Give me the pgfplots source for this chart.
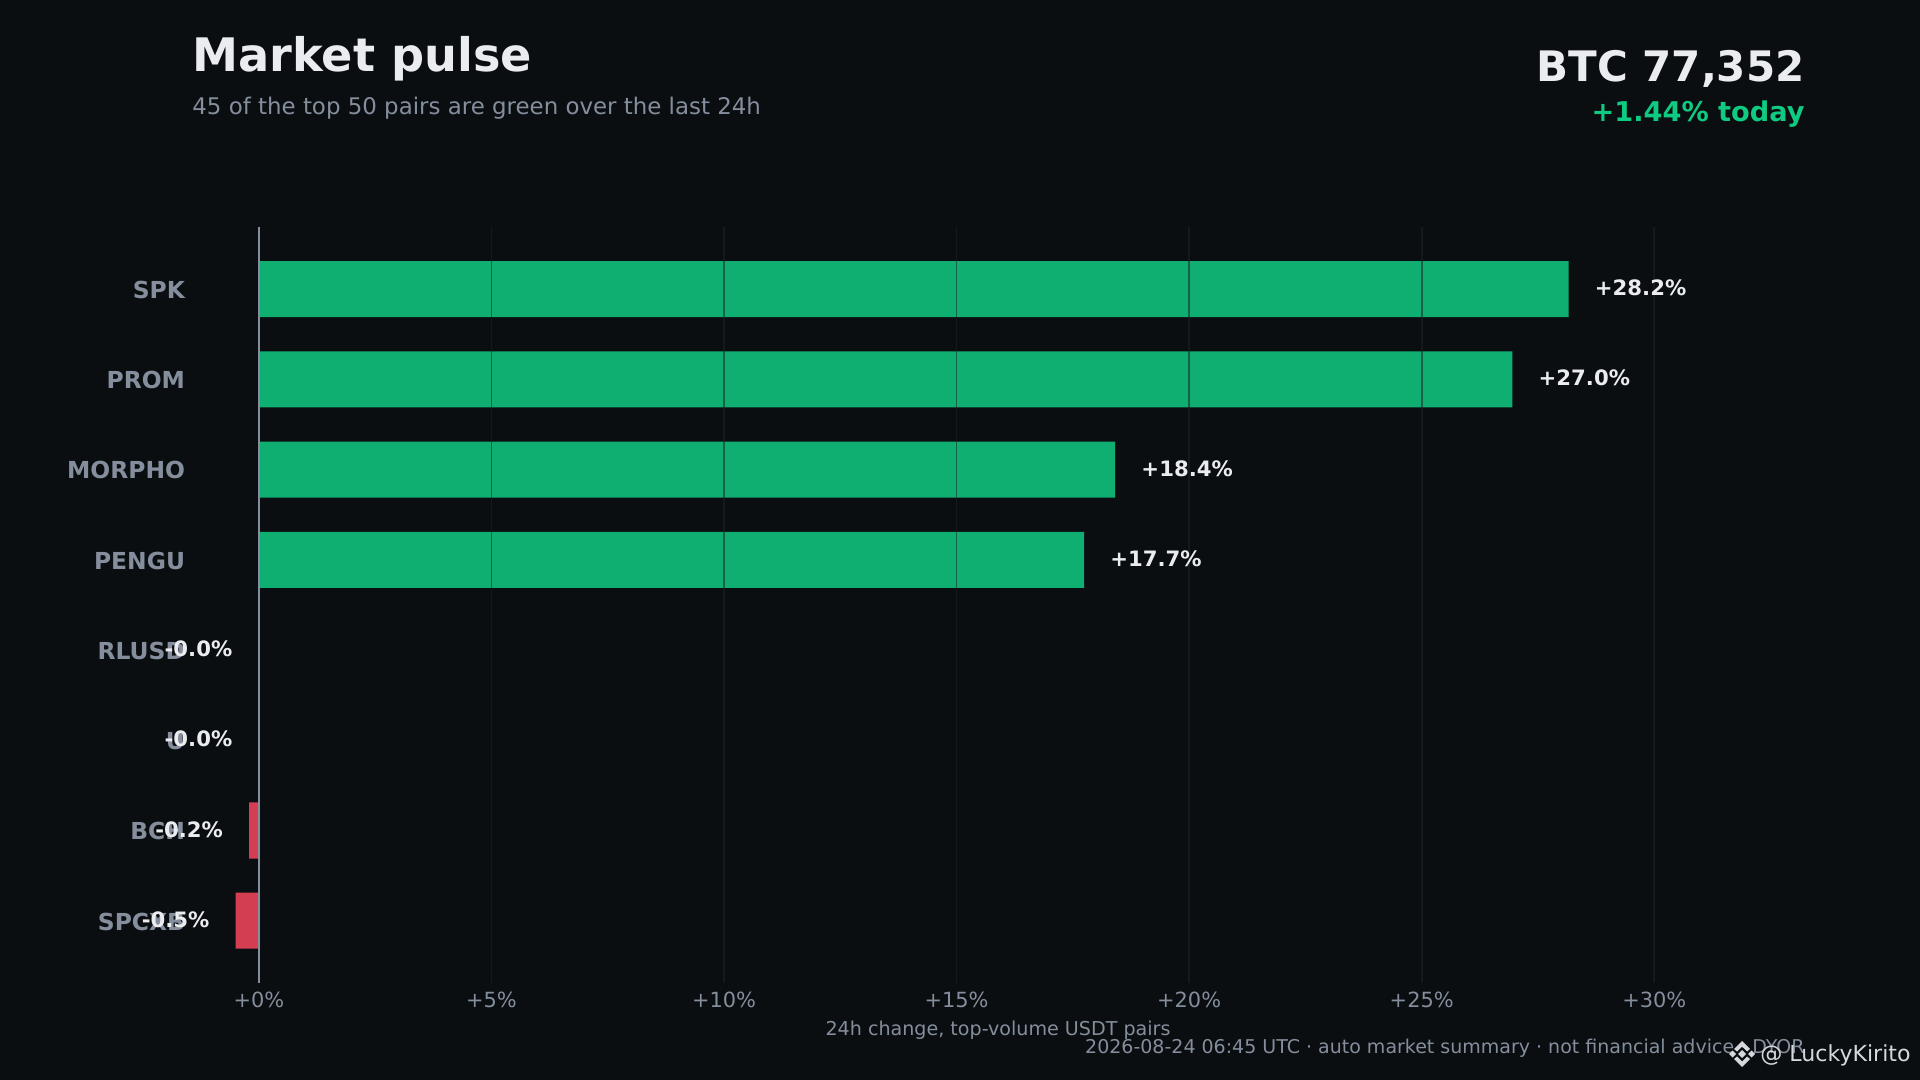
\documentclass[border=0pt]{standalone}
\usepackage{pgfplots}
\pgfplotsset{compat=1.18}
\usepackage{fontspec}
\setmainfont{DejaVu Sans}
\definecolor{bg}{HTML}{0B0E11}
\definecolor{gridc}{HTML}{1E2329}
\definecolor{muted}{HTML}{848E9C}
\definecolor{ink}{HTML}{EAECEF}
\definecolor{up}{HTML}{0EAF70}
\definecolor{down}{HTML}{D33E52}
\definecolor{upt}{HTML}{0ECB81}
\definecolor{mark}{HTML}{D5D8DC}
\pgfplotstableread{
y val lab
0 28.16 {+28.2\%}
1 26.95 {+27.0\%}
2 18.41 {+18.4\%}
3 17.74 {+17.7\%}
}\gainers
\pgfplotstableread{
y val lab
4 -0.01 {-0.0\%}
5 -0.01 {-0.0\%}
6 -0.21 {-0.2\%}
7 -0.50 {-0.5\%}
}\losers
\pgfplotsset{frame/.style={
  at={(96pt,-491.5pt)},anchor=south west,
  scale only axis,width=806pt,height=378pt,
  xmin=-1.44,xmax=33.22,ymin=-0.687,ymax=7.69,y dir=reverse,
  clip=false,xbar,bar shift=0pt,bar width=28pt,
  point meta=explicit symbolic}}
\begin{document}
\begin{tikzpicture}[x=0.5pt,y=-0.5pt]
\fill[bg] (0,0) rectangle (1920,1080);
\begin{axis}[frame,
  axis on top,
  axis line style={draw=none},
  xtick={5,10,15,20,25,30},
  xticklabels={+5\%,+10\%,+15\%,+20\%,+25\%,+30\%},
  extra x ticks={0},
  extra x tick labels={+0\%},
  extra x tick style={major grid style={draw=muted,line width=0.75pt,opacity=1}},
  ytick={0,1,2,3,4,5,6,7},
  yticklabels={SPK,PROM,MORPHO,PENGU,RLUSD,U,BCH,SPCXB},
  tick style={draw=none},
  xmajorgrids,
  major grid style={draw=gridc,line width=0.85pt,opacity=0.55},
  xticklabel style={font=\fontsize{10.45}{12}\selectfont,text=muted,yshift=-0.9pt},
  yticklabel style={font=\fontsize{11.7}{14}\selectfont\bfseries,text=muted,anchor=east,xshift=4.3pt,yshift=-0.4pt},
  xlabel={24h change, top-volume USDT pairs},
  xlabel style={font=\fontsize{9.55}{11}\selectfont,text=muted,yshift=0.2pt},
]
\addplot[draw=none,fill=up] table[x=val,y=y,meta=lab]{\gainers};
\addplot[draw=none,fill=down] table[x=val,y=y,meta=lab]{\losers};
\end{axis}
\begin{axis}[frame,hide axis,nodes near coords]
\addplot[draw=none,fill=none,
  nodes near coords style={anchor=west,xshift=9.6pt,yshift=0.6pt,text=ink,font=\fontsize{10.6}{13}\selectfont\bfseries}]
  table[x=val,y=y,meta=lab]{\gainers};
\addplot[draw=none,fill=none,
  nodes near coords style={anchor=east,xshift=-9.6pt,yshift=0.6pt,text=ink,font=\fontsize{10.6}{13}\selectfont\bfseries}]
  table[x=val,y=y,meta=lab]{\losers};
\end{axis}
\node[anchor=base west,inner sep=0,text=ink,font=\fontsize{23.1}{28}\selectfont\bfseries] at (192,71.5) {Market pulse};
\node[anchor=base west,inner sep=0,text=muted,font=\fontsize{11.45}{14}\selectfont] at (192,115) {45 of the top 50 pairs are green over the last 24h};
\node[anchor=base east,inner sep=0,text=ink,font=\fontsize{21}{25}\selectfont\bfseries] at (1805,82) {BTC 77,352};
\node[anchor=base east,inner sep=0,text=upt,font=\fontsize{13.6}{16}\selectfont\bfseries] at (1805,122) {+1.44\% today};
\node[anchor=base east,inner sep=0,text=muted,font=\fontsize{9.5}{11}\selectfont] at (1805,1053) {2026-08-24 06:45 UTC · auto market summary · not financial advice · DYOR};
\begin{scope}[shift={(1742,1054)},fill=mark,draw=none]
\fill (0,-4)--(4,0)--(0,4)--(-4,0)--cycle;
\fill (-13,0)--(-9.5,-3.5)--(-6,0)--(-9.5,3.5)--cycle;
\fill (13,0)--(9.5,-3.5)--(6,0)--(9.5,3.5)--cycle;
\fill (0,-13)--(8,-5)--(5,-2.5)--(0,-7.5)--(-5,-2.5)--(-8,-5)--cycle;
\fill (0,13)--(8,5)--(5,2.5)--(0,7.5)--(-5,2.5)--(-8,5)--cycle;
\end{scope}
\node[anchor=base east,inner sep=0,text=mark,font=\fontsize{11.05}{14}\selectfont] at (1911,1061.5) {@ LuckyKirito};
\end{tikzpicture}
\end{document}
